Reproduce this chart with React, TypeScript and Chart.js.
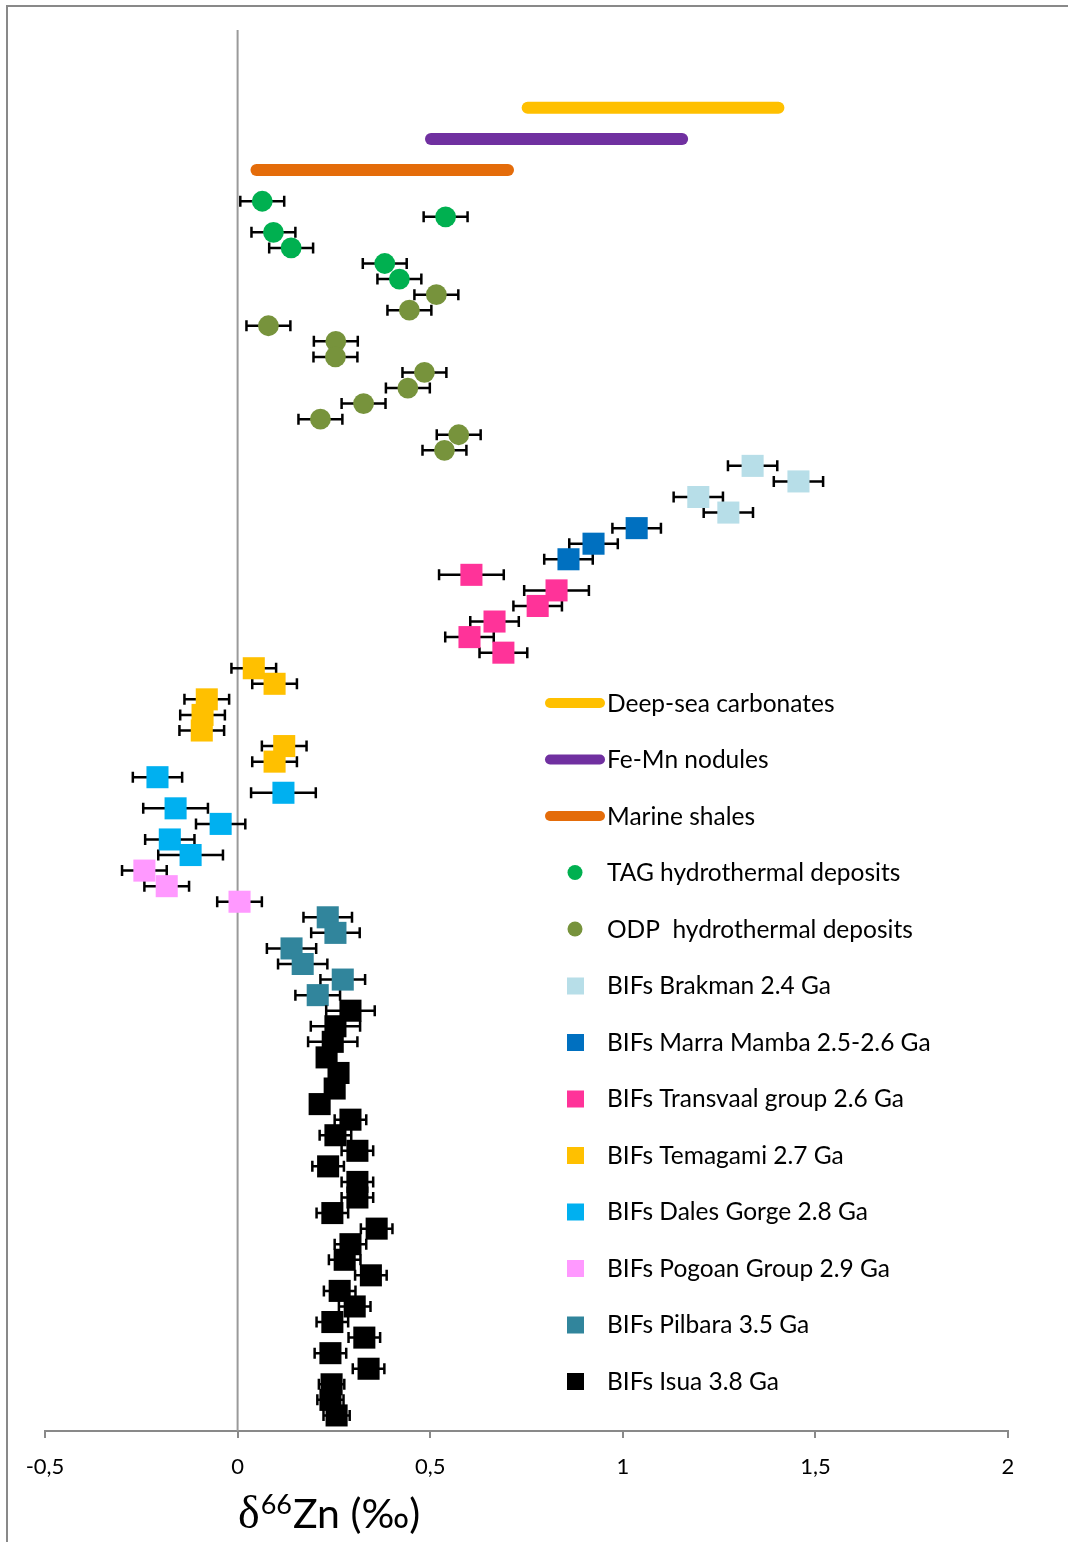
import React, { useEffect, useRef } from 'react';
import { Chart, registerables } from 'chart.js';

Chart.register(...registerables);

const FONT = 'Lato';

// ---- Range series (thick horizontal lines) ----
const carbonatesX = [0.753, 1.404];
const carbonatesY = [85, 85];
const feMnX = [0.502, 1.154];
const feMnY = [83, 83];
const shalesX = [0.049, 0.702];
const shalesY = [81, 81];

// ---- Point series: δ66Zn value, row position, ± error ----
const tagX = [0.064, 0.54, 0.093, 0.139, 0.382, 0.42];
const tagY = [79, 78, 77, 76, 75, 74];
const tagErr = [0.057, 0.057, 0.057, 0.057, 0.057, 0.057];

const odpX = [0.516, 0.446, 0.08, 0.255, 0.254, 0.485, 0.442, 0.327, 0.215, 0.574, 0.537];
const odpY = [73, 72, 71, 70, 69, 68, 67, 66, 65, 64, 63];
const odpErr = [0.057, 0.057, 0.057, 0.057, 0.057, 0.057, 0.057, 0.057, 0.057, 0.057, 0.057];

const brakmanX = [1.337, 1.456, 1.196, 1.274];
const brakmanY = [62, 61, 60, 59];
const brakmanErr = [0.064, 0.064, 0.064, 0.064];

const marraX = [1.036, 0.924, 0.859];
const marraY = [58, 57, 56];
const marraErr = [0.063, 0.063, 0.063];

const transvaalX = [0.607, 0.828, 0.779, 0.667, 0.602, 0.69];
const transvaalY = [55, 54, 53, 52, 51, 50];
const transvaalErr = [0.084, 0.084, 0.063, 0.063, 0.063, 0.062];

const temagamiX = [0.042, 0.096, -0.08, -0.091, -0.093, 0.121, 0.096];
const temagamiY = [49, 48, 47, 46, 45, 44, 43];
const temagamiErr = [0.058, 0.058, 0.058, 0.058, 0.058, 0.058, 0.058];

const dalesX = [-0.208, 0.119, -0.161, -0.044, -0.176, -0.122];
const dalesY = [42, 41, 40, 39, 38, 37];
const dalesErr = [0.064, 0.084, 0.084, 0.064, 0.064, 0.084];

const pogoanX = [-0.242, -0.184, 0.005];
const pogoanY = [36, 35, 34];
const pogoanErr = [0.058, 0.058, 0.058];

const pilbaraX = [0.234, 0.254, 0.14, 0.169, 0.273, 0.208];
const pilbaraY = [33, 32, 31, 30, 29, 28];
const pilbaraErr = [0.063, 0.063, 0.064, 0.064, 0.058, 0.058];

const isuaX = [
  0.293, 0.254, 0.247, 0.231, 0.262, 0.252, 0.213, 0.293, 0.254, 0.311,
  0.235, 0.311, 0.311, 0.246, 0.361, 0.293, 0.278, 0.346, 0.265, 0.304,
  0.246, 0.329, 0.241, 0.34, 0.244, 0.241, 0.257,
];
const isuaY = [
  27, 26, 25, 24, 23, 22, 21, 20, 19, 18,
  17, 16, 15, 14, 13, 12, 11, 10, 9, 8,
  7, 6, 5, 4, 3, 2, 1,
];
const isuaErr = [
  0.063, 0.064, 0.064, 0.02, 0.02, 0.02, 0.02, 0.041, 0.041, 0.041,
  0.041, 0.041, 0.041, 0.041, 0.041, 0.041, 0.041, 0.041, 0.041, 0.041,
  0.041, 0.041, 0.041, 0.041, 0.033, 0.034, 0.034,
];

const xTicks = [-0.5, 0, 0.5, 1, 1.5, 2];

const seriesLabels = [
  'Deep-sea carbonates',
  'Fe-Mn nodules',
  'Marine shales',
  'TAG hydrothermal deposits',
  'ODP  hydrothermal deposits',
  'BIFs Brakman 2.4 Ga',
  'BIFs Marra Mamba 2.5-2.6 Ga',
  'BIFs Transvaal group 2.6 Ga',
  'BIFs Temagami 2.7 Ga',
  'BIFs Dales Gorge 2.8 Ga',
  'BIFs Pogoan Group 2.9 Ga',
  'BIFs Pilbara 3.5 Ga',
  'BIFs Isua 3.8 Ga',
];
const seriesColors = [
  '#FFC000', '#7030A0', '#E46C0A', '#00B050', '#77933C', '#B7DEE8', '#0070C0',
  '#FF3399', '#FFC000', '#00B0F0', '#FF99FF', '#31859C', '#000000',
];
const seriesKinds = [
  'line', 'line', 'line', 'circle', 'circle', 'rect', 'rect',
  'rect', 'rect', 'rect', 'rect', 'rect', 'rect',
];

const rangeSeries = [
  [carbonatesX, carbonatesY],
  [feMnX, feMnY],
  [shalesX, shalesY],
];
const pointSeries = [
  [tagX, tagY, tagErr],
  [odpX, odpY, odpErr],
  [brakmanX, brakmanY, brakmanErr],
  [marraX, marraY, marraErr],
  [transvaalX, transvaalY, transvaalErr],
  [temagamiX, temagamiY, temagamiErr],
  [dalesX, dalesY, dalesErr],
  [pogoanX, pogoanY, pogoanErr],
  [pilbaraX, pilbaraY, pilbaraErr],
  [isuaX, isuaY, isuaErr],
];

const fmt = (v: number) => String(v).replace('.', ',');

const errorBarPlugin = {
  id: 'errorBars',
  beforeDatasetDraw(chart: any, args: any) {
    const ds = chart.data.datasets[args.index];
    if (!ds.errors) return;
    const meta = chart.getDatasetMeta(args.index);
    const xs = chart.scales.x;
    const ctx = chart.ctx;
    ctx.save();
    ctx.strokeStyle = '#000';
    ctx.lineWidth = 2.5;
    ctx.lineCap = 'butt';
    meta.data.forEach((el: any, i: number) => {
      const d = ds.data[i];
      const e = ds.errors[i];
      const x1 = xs.getPixelForValue(d.x - e);
      const x2 = xs.getPixelForValue(d.x + e);
      const y = el.y;
      ctx.beginPath();
      ctx.moveTo(x1, y);
      ctx.lineTo(x2, y);
      ctx.moveTo(x1, y - 5.5);
      ctx.lineTo(x1, y + 5.5);
      ctx.moveTo(x2, y - 5.5);
      ctx.lineTo(x2, y + 5.5);
      ctx.stroke();
    });
    ctx.restore();
  },
};

const backgroundPlugin = {
  id: 'bgAndZero',
  beforeDraw(chart: any) {
    const ctx = chart.ctx;
    ctx.save();
    ctx.fillStyle = '#ffffff';
    ctx.fillRect(0, 0, chart.width, chart.height);
    ctx.fillStyle = '#898989';
    ctx.fillRect(6, 5, chart.width - 6, 2);
    ctx.fillRect(6, 5, 2, chart.height - 5);
    ctx.restore();
  },
  beforeDatasetsDraw(chart: any) {
    const ctx = chart.ctx;
    const x0 = chart.scales.x.getPixelForValue(0);
    const { top, bottom } = chart.chartArea;
    ctx.save();
    ctx.strokeStyle = '#9a9a9a';
    ctx.lineWidth = 2;
    ctx.beginPath();
    ctx.moveTo(x0, top);
    ctx.lineTo(x0, bottom);
    ctx.stroke();
    ctx.restore();
  },
};

const LEGEND_MARK_X = 575;
const LEGEND_TEXT_X = 607;
const LEGEND_TOP = 703;
const LEGEND_STEP = 56.5;

const legendPlugin = {
  id: 'customLegend',
  afterDraw(chart: any) {
    const ctx = chart.ctx;
    ctx.save();
    seriesLabels.forEach((label, i) => {
      const y = LEGEND_TOP + i * LEGEND_STEP;
      const color = seriesColors[i];
      const kind = seriesKinds[i];
      if (kind === 'line') {
        ctx.strokeStyle = color;
        ctx.lineWidth = 10;
        ctx.lineCap = 'round';
        ctx.beginPath();
        ctx.moveTo(550, y);
        ctx.lineTo(600, y);
        ctx.stroke();
      } else if (kind === 'circle') {
        ctx.fillStyle = color;
        ctx.beginPath();
        ctx.arc(LEGEND_MARK_X, y, 7.5, 0, Math.PI * 2);
        ctx.fill();
      } else {
        ctx.fillStyle = color;
        ctx.fillRect(LEGEND_MARK_X - 8, y - 8, 17, 17);
      }
      ctx.fillStyle = '#000';
      ctx.font = `24.5px ${FONT}`;
      ctx.textAlign = 'left';
      ctx.textBaseline = 'middle';
      ctx.fillText(label, LEGEND_TEXT_X, y + 1);
    });
    ctx.restore();
  },
};

const titlePlugin = {
  id: 'axisTitle',
  afterDraw(chart: any) {
    const ctx = chart.ctx;
    ctx.save();
    ctx.fillStyle = '#000';
    ctx.textAlign = 'left';
    ctx.textBaseline = 'alphabetic';
    let x = 238;
    const base = 1528;
    ctx.font = `46px "Liberation Serif"`;
    ctx.fillText('δ', x, base);
    x += ctx.measureText('δ').width + 1;
    ctx.font = `27px ${FONT}`;
    ctx.fillText('66', x, base - 14);
    x += ctx.measureText('66').width + 1;
    ctx.font = `41px ${FONT}`;
    ctx.fillText('Zn (‰)', x, base);
    ctx.restore();
  },
};

export default function App() {
  const ref = useRef<HTMLCanvasElement | null>(null);

  useEffect(() => {
    if (!ref.current) return;
    const datasets: any[] = [];
    rangeSeries.forEach(([xs, ys], i) => {
      datasets.push({
        label: seriesLabels[i],
        data: xs.map((x, j) => ({ x, y: ys[j] })),
        showLine: true,
        borderColor: seriesColors[i],
        backgroundColor: seriesColors[i],
        borderWidth: 12,
        borderCapStyle: 'round',
        pointRadius: 0,
        order: 20 - i,
      });
    });
    pointSeries.forEach(([xs, ys, errs], k) => {
      const i = k + 3;
      const circle = seriesKinds[i] === 'circle';
      datasets.push({
        label: seriesLabels[i],
        data: xs.map((x, j) => ({ x, y: ys[j] })),
        errors: errs,
        showLine: false,
        pointStyle: circle ? 'circle' : 'rect',
        pointRadius: circle ? 10.4 : 15.6,
        pointBorderWidth: 0,
        borderWidth: 0,
        backgroundColor: seriesColors[i],
        borderColor: seriesColors[i],
        order: 20 - i,
      });
    });

    const chart = new Chart(ref.current, {
      type: 'scatter',
      data: { datasets },
      options: {
        animation: false,
        responsive: false,
        maintainAspectRatio: false,
        devicePixelRatio: 1,
        events: [],
        layout: { padding: { left: 45, right: 60, top: 30, bottom: 0 } },
        plugins: {
          legend: { display: false },
          tooltip: { enabled: false },
          title: { display: false },
        },
        scales: {
          x: {
            type: 'linear',
            min: xTicks[0],
            max: xTicks[xTicks.length - 1],
            afterBuildTicks: (scale: any) => {
              scale.ticks = xTicks.map((v) => ({ value: v }));
            },
            afterFit: (scale: any) => {
              scale.height = 111;
            },
            ticks: {
              callback: (v: any) => fmt(Number(v)),
              font: { family: FONT, size: 22 },
              color: '#000',
              padding: 16,
              maxRotation: 0,
            },
            grid: {
              drawOnChartArea: false,
              drawTicks: true,
              tickLength: 7,
              color: '#898989',
              lineWidth: 2,
            },
            border: { display: true, color: '#898989', width: 2 },
          },
          y: {
            type: 'linear',
            min: 0,
            max: 90,
            display: false,
          },
        },
      } as any,
      plugins: [backgroundPlugin, errorBarPlugin, legendPlugin, titlePlugin],
    });
    return () => chart.destroy();
  }, []);

  return (
    <div style={{ position: 'absolute', left: 0, top: 0, width: 1068, height: 1542 }}>
      <canvas ref={ref} width={1068} height={1542} style={{ display: 'block', width: 1068, height: 1542 }} />
    </div>
  );
}
